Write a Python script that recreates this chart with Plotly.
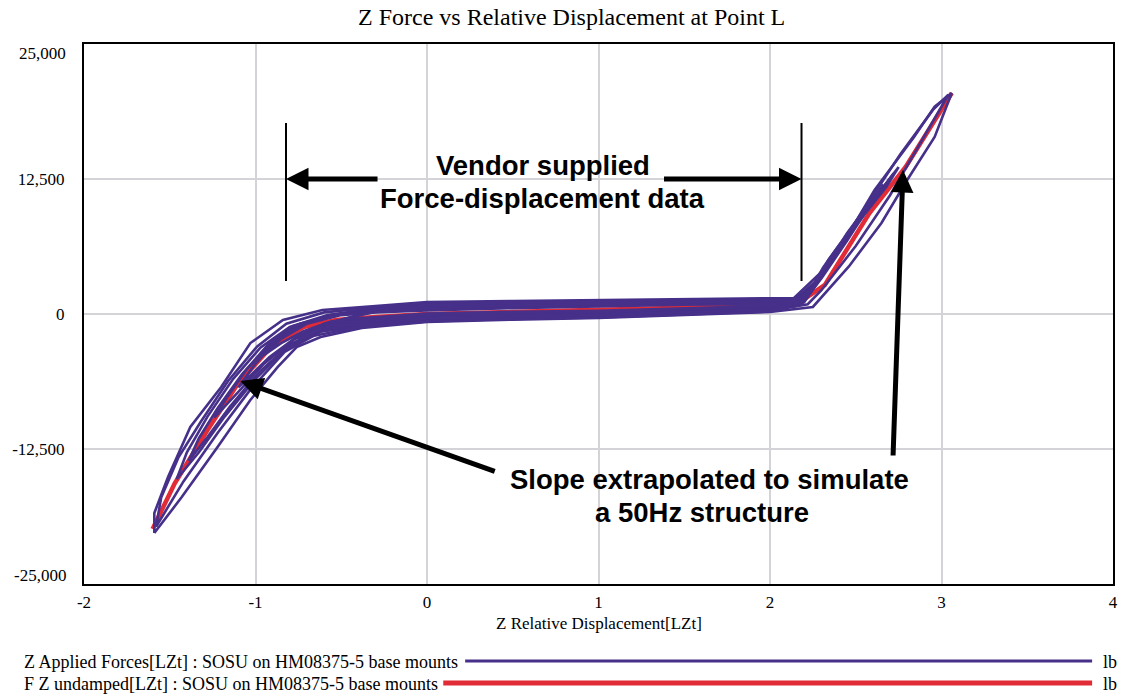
import plotly.graph_objects as go

# ---------------- data ----------------
# Purple hysteresis loops: Z Applied Forces[LZt]
loopA_x = [-1.59, -1.59, -1.51, -1.38, -1.20, -1.03, -0.84, -0.61, -0.30, 0.0, 0.5, 1.0, 1.5, 2.0, 2.14,
           2.36, 2.61, 2.84, 2.96, 3.06, 2.96, 2.80, 2.65, 2.46, 2.25, 2.0, 1.5, 1.0, 0.5, 0.0, -0.38,
           -0.62, -0.76, -0.87, -1.03, -1.22, -1.43, -1.59]
loopA_y = [-20280, -18430, -15100, -10460, -6760, -2690, -560, 370, 740, 1110, 1200, 1300, 1400, 1480, 1480,
           4800, 11480, 16390, 19200, 20460, 16390, 12410, 8430, 4400, 650, 185, -100, -370, -520, -740, -1300,
           -2130, -3060, -4900, -7960, -12300, -16950, -20280]

loopB_x = [-1.58, -1.55, -1.45, -1.32, -1.16, -0.99, -0.82, -0.60, -0.30, 0.0, 0.5, 1.0, 1.5, 2.0, 2.15,
           2.30, 2.52, 2.76, 2.95, 3.04, 2.90, 2.70, 2.50, 2.30, 2.22, 2.0, 1.5, 1.0, 0.5, 0.0, -0.40,
           -0.62, -0.83, -1.03, -1.22, -1.42, -1.58]
loopB_y = [-19700, -17000, -13300, -10000, -6200, -3000, -900, 150, 640, 980, 1090, 1200, 1300, 1390, 1420,
           3500, 9000, 14800, 18900, 20300, 16500, 11000, 6300, 2200, 900, 280, 0, -260, -400, -610, -1150,
           -1650, -3500, -7000, -11000, -15500, -19700]

loopC_x = [-1.46, -1.40, -1.28, -1.13, -0.97, -0.80, -0.58, -0.30, 0.0, 0.5, 1.0, 1.5, 2.0, 2.15,
           2.30, 2.45, 2.60, 2.75, 2.68, 2.55, 2.42, 2.30, 2.20, 2.0, 1.5, 1.0, 0.5, 0.0, -0.40,
           -0.62, -0.82, -1.00, -1.18, -1.33, -1.46]
loopC_y = [-15300, -12800, -9500, -6000, -3100, -1200, -100, 540, 850, 980, 1100, 1210, 1300, 1350,
           3300, 6800, 10500, 13600, 11800, 9200, 6300, 3300, 1200, 375, 100, -150, -280, -480, -1000,
           -1500, -3200, -6000, -9500, -12800, -15300]

loopD_x = [-1.39, -1.33, -1.22, -1.08, -0.93, -0.78, -0.56, -0.30, 0.0, 0.5, 1.0, 1.5, 2.0, 2.15,
           2.28, 2.42, 2.58, 2.72, 2.64, 2.52, 2.40, 2.28, 2.20, 2.0, 1.5, 1.0, 0.5, 0.0, -0.40,
           -0.60, -0.80, -0.98, -1.15, -1.28, -1.39]
loopD_y = [-13600, -11500, -8700, -5600, -2900, -1100, -150, 440, 720, 870, 1000, 1120, 1210, 1280,
           3000, 6300, 10000, 13000, 11200, 8700, 6000, 3000, 1100, 470, 200, -40, -160, -350, -850,
           -1300, -2800, -5400, -8600, -11400, -13600]

loopE_x = [-1.24, -1.17, -1.05, -0.90, -0.74, -0.54, -0.30, 0.0, 0.5, 1.0, 1.5, 2.0, 2.15,
           2.27, 2.40, 2.55, 2.66, 2.60, 2.48, 2.37, 2.26, 2.19, 2.0, 1.5, 1.0, 0.5, 0.0, -0.40,
           -0.60, -0.78, -0.95, -1.10, -1.24]
loopE_y = [-9600, -7800, -5100, -2600, -900, -100, 340, 590, 760, 900, 1030, 1120, 1210,
           2800, 6000, 9500, 12000, 10500, 8000, 5500, 2700, 1000, 565, 300, 70, -40, -220, -700,
           -1100, -2400, -4600, -7200, -9600]

loopF_x = [-1.10, -1.00, -0.88, -0.72, -0.52, -0.30, 0.0, 0.5, 1.0, 1.5, 2.0, 2.15,
           2.26, 2.38, 2.50, 2.60, 2.54, 2.44, 2.34, 2.25, 2.18, 2.0, 1.5, 1.0, 0.5, 0.0, -0.40,
           -0.58, -0.75, -0.92, -1.10]
loopF_y = [-6800, -4600, -2500, -900, -50, 240, 460, 650, 800, 940, 1030, 1140,
           2600, 5600, 8500, 10800, 9400, 7200, 5000, 2400, 1000, 660, 400, 180, 80, -90, -550,
           -900, -2000, -4000, -6800]

loopG_x = [-0.95, -0.85, -0.70, -0.50, -0.30, 0.0, 0.5, 1.0, 1.5, 2.0, 2.15,
           2.25, 2.35, 2.45, 2.53, 2.48, 2.40, 2.31, 2.23, 2.17, 2.0, 1.5, 1.0, 0.5, 0.0, -0.40,
           -0.56, -0.72, -0.85, -0.95]
loopG_y = [-3800, -2300, -900, -100, 140, 330, 540, 700, 850, 940, 1070,
           2400, 5000, 7500, 9200, 8000, 6300, 4300, 2100, 1000, 755, 500, 290, 200, 40, -400,
           -700, -1600, -2700, -3800]

# small cycles inside the flat band
loopH_x = [-0.60, -0.30, 0.0, 0.5, 1.0, 1.5, 2.0, 2.20, 2.0, 1.5, 1.0, 0.5, 0.0, -0.40, -0.60]
loopH_y = [-1000, 400, 800, 1000, 1120, 1230, 1330, 1380, 420, 150, -100, -220, -420, -1050, -1000]

loopI_x = [-0.75, -0.60, -0.30, 0.0, 0.5, 1.0, 1.5, 2.0, 2.20, 2.0, 1.5, 1.0, 0.5, 0.0, -0.40, -0.62, -0.75]
loopI_y = [-2300, -900, 200, 560, 800, 960, 1080, 1180, 1250, 230, -50, -320, -460, -680, -1220, -1900, -2300]

# Red curve: F Z undamped[LZt]
red_x = [-1.60, -1.47, -1.28, -1.10, -0.91, -0.72, -0.53, -0.39, 0.0, 0.7, 1.5, 2.15, 2.32, 2.58, 2.79, 3.06]
red_y = [-19900, -15650, -10740, -6400, -3060, -1200, -560, -370, 0, 300, 650, 830, 2700, 9350, 13600, 20460]

x_ticks = [-2, -1, 0, 1, 2, 3, 4]
y_ticks = [-12500, 0, 12500]
y_tick_text = ["-12,500", "0", "12,500"]

series_a_name = "Z Applied Forces[LZt] : SOSU on HM08375-5 base mounts"
series_b_name = "F Z undamped[LZt] : SOSU on HM08375-5 base mounts"
units = "lb"

PURPLE = "#46308a"
RED = "#e12b36"
SERIF = '"Times New Roman", "Liberation Serif", "DejaVu Serif", serif'
SANS = '"Liberation Sans", Arial, sans-serif'

fig = go.Figure()

fig.add_trace(go.Scatter(x=red_x, y=red_y, mode="lines",
                         line=dict(color=RED, width=4.5), showlegend=False, hoverinfo="skip"))

for lx, ly in [(loopA_x, loopA_y), (loopB_x, loopB_y), (loopC_x, loopC_y), (loopD_x, loopD_y),
               (loopE_x, loopE_y), (loopF_x, loopF_y), (loopG_x, loopG_y),
               (loopH_x, loopH_y), (loopI_x, loopI_y)]:
    fig.add_trace(go.Scatter(x=lx, y=ly, mode="lines",
                             line=dict(color=PURPLE, width=2.6), showlegend=False, hoverinfo="skip"))

# ---------------- layout ----------------
L, R, T, B = 84, 7, 44, 111
W, H = 1125, 695
pw = W - L - R
ph = H - T - B

def px2paper_x(px):
    return (px - L) / pw

def py2paper_y(py):
    return (H - B - py) / ph

serif_font = dict(family=SERIF, size=17, color="black")

annotations = []
# title
annotations.append(dict(text="Z Force vs Relative Displacement at Point L", xref="paper", yref="paper",
                        x=px2paper_x(574), y=py2paper_y(17), showarrow=False,
                        font=dict(family=SERIF, size=24, color="black"), xanchor="center", yanchor="middle"))
# x-axis title
annotations.append(dict(text="Z Relative Displacement[LZt]", xref="paper", yref="paper",
                        x=px2paper_x(601), y=py2paper_y(623), showarrow=False,
                        font=serif_font, xanchor="center", yanchor="middle"))
# extreme y tick labels (drawn inward like the original)
annotations.append(dict(text="25,000", xref="paper", yref="paper", x=px2paper_x(68), y=py2paper_y(54),
                        showarrow=False, font=serif_font, xanchor="right", yanchor="middle"))
annotations.append(dict(text="-25,000", xref="paper", yref="paper", x=px2paper_x(68), y=py2paper_y(575),
                        showarrow=False, font=serif_font, xanchor="right", yanchor="middle"))
# legend texts
legend_font = dict(family=SERIF, size=18, color="black")
for name, py in [(series_a_name, 662), (series_b_name, 684)]:
    annotations.append(dict(text=name, xref="paper", yref="paper", x=px2paper_x(22), y=py2paper_y(py),
                            showarrow=False, font=legend_font, xanchor="left", yanchor="middle"))
    annotations.append(dict(text=units, xref="paper", yref="paper", x=px2paper_x(1106), y=py2paper_y(py),
                            showarrow=False, font=legend_font, xanchor="left", yanchor="middle"))

# callout texts
bold = dict(family=SANS, size=27.5, color="black")
annotations.append(dict(text="<b>Vendor supplied</b>", xref="paper", yref="paper", x=px2paper_x(545),
                        y=py2paper_y(165), showarrow=False, font=bold, xanchor="center", yanchor="middle"))
annotations.append(dict(text="<b>Force-displacement data</b>", xref="paper", yref="paper", x=px2paper_x(545),
                        y=py2paper_y(198), showarrow=False, font=bold, xanchor="center", yanchor="middle"))
annotations.append(dict(text="<b>Slope extrapolated to simulate</b>", xref="paper", yref="paper",
                        x=px2paper_x(713), y=py2paper_y(480), showarrow=False, font=bold,
                        xanchor="center", yanchor="middle"))
annotations.append(dict(text="<b>a 50Hz structure</b>", xref="paper", yref="paper",
                        x=px2paper_x(705), y=py2paper_y(512), showarrow=False, font=bold,
                        xanchor="center", yanchor="middle"))

# arrows (pointer annotations; tail given as pixel offset from the tip)
def arrow(tip, tail):
    return dict(text="", xref="paper", yref="paper", axref="pixel", ayref="pixel",
                x=px2paper_x(tip[0]), y=py2paper_y(tip[1]),
                ax=tail[0] - tip[0], ay=tail[1] - tip[1],
                showarrow=True, arrowhead=2, arrowsize=0.9, arrowwidth=5, arrowcolor="black")

annotations.append(arrow((287, 179), (380, 179)))
annotations.append(arrow((805, 179), (666, 179)))
annotations.append(arrow((241, 381), (497, 472)))
annotations.append(arrow((907, 170), (897, 457)))

shapes = []
# vertical brackets
for px in (287, 805):
    shapes.append(dict(type="line", xref="paper", yref="paper",
                       x0=px2paper_x(px), x1=px2paper_x(px), y0=py2paper_y(123), y1=py2paper_y(281),
                       line=dict(color="black", width=2)))
# legend lines
shapes.append(dict(type="line", xref="paper", yref="paper", x0=px2paper_x(467), x1=px2paper_x(1097),
                   y0=py2paper_y(661), y1=py2paper_y(661), line=dict(color=PURPLE, width=3)))
shapes.append(dict(type="line", xref="paper", yref="paper", x0=px2paper_x(445), x1=px2paper_x(1097),
                   y0=py2paper_y(683), y1=py2paper_y(683), line=dict(color=RED, width=5)))

fig.update_layout(
    width=W, height=H,
    margin=dict(l=L, r=R, t=T, b=B, pad=0),
    paper_bgcolor="white", plot_bgcolor="white",
    showlegend=False,
    annotations=annotations, shapes=shapes,
    font=dict(family=SERIF, size=17, color="black"),
    xaxis=dict(range=[-2, 4], tickvals=x_ticks, ticktext=[str(v) for v in x_ticks],
               showgrid=True, gridcolor="#d4d4d8", gridwidth=2,
               showline=True, linecolor="black", linewidth=2, mirror=True,
               ticks="outside", ticklen=2, tickcolor="rgba(0,0,0,0)",
               zeroline=False, tickfont=serif_font),
    yaxis=dict(range=[-25000, 25000], tickvals=y_ticks, ticktext=y_tick_text,
               showgrid=True, gridcolor="#d4d4d8", gridwidth=2,
               showline=True, linecolor="black", linewidth=2, mirror=True,
               ticks="outside", ticklen=14, tickcolor="rgba(0,0,0,0)",
               zeroline=False, tickfont=serif_font),
)

fig.write_html("out.html", config={"displayModeBar": False})
